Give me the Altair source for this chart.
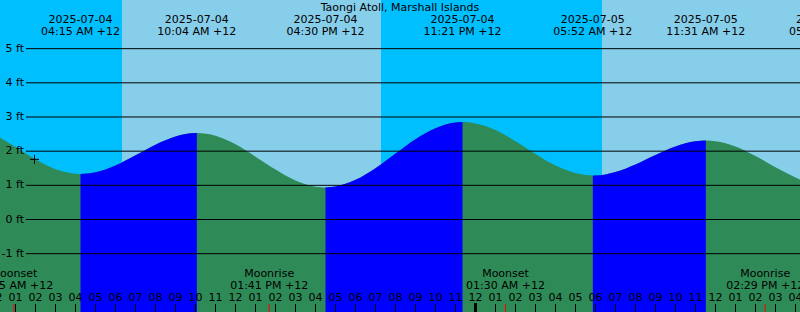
import altair as alt
import pandas as pd

FONT = "DejaVu Sans"
TITLE = "Taongi Atoll, Marshall Islands"

# Tide height (hours after 2025-07-04 00:00, feet)
tide_hours = [-1, 0, 1, 2, 3, 4, 4.25, 5, 6, 7, 8, 9, 10, 10.067, 11, 12, 13, 14, 15, 16, 16.5,
              17, 18, 19, 20, 21, 22, 23, 23.35, 24, 25, 26, 27, 28, 29, 29.867, 30, 31, 32, 33,
              34, 35, 35.517, 36, 37, 38, 39, 40, 41, 41.62]
tide_feet = [2.69, 2.46, 2.12, 1.76, 1.47, 1.34, 1.33, 1.38, 1.58, 1.88, 2.19, 2.43, 2.53, 2.53,
             2.45, 2.20, 1.84, 1.46, 1.14, 0.96, 0.94, 0.965, 1.16, 1.50, 1.93, 2.35, 2.67, 2.84,
             2.85, 2.81, 2.62, 2.29, 1.92, 1.58, 1.36, 1.29, 1.29, 1.39, 1.61, 1.89, 2.14, 2.29,
             2.31, 2.29, 2.14, 1.86, 1.53, 1.23, 0.99, 0.96]

# High / low tide events
ext_hours = [4.25, 10.067, 16.5, 23.35, 29.867, 35.517, 41.62]
ext_kind = ["low", "high", "low", "high", "low", "high", "low"]
ext_date = ["2025-07-04", "2025-07-04", "2025-07-04", "2025-07-04",
            "2025-07-05", "2025-07-05", "2025-07-05"]
ext_time = ["04:15 AM +12", "10:04 AM +12", "04:30 PM +12", "11:21 PM +12",
            "05:52 AM +12", "11:31 AM +12", "05:37 PM +12"]

# Day / night spans
sun_start = [-2, 6.325, 19.275, 30.325]
sun_end = [6.325, 19.275, 30.325, 43]
sun_kind = ["night", "day", "night", "day"]

# Moon events
moon_hours = [0.9167, 13.683, 25.5, 38.483]
moon_name = ["Moonset", "Moonrise", "Moonset", "Moonrise"]
moon_time = ["12:55 AM +12", "01:41 PM +12", "01:30 AM +12", "02:29 PM +12"]

# Hour ticks
hour_ticks = list(range(0, 42))
hour_labels = ["12", "01", "02", "03", "04", "05", "06", "07", "08", "09", "10", "11",
               "12", "01", "02", "03", "04", "05", "06", "07", "08", "09", "10", "11",
               "12", "01", "02", "03", "04", "05", "06", "07", "08", "09", "10", "11",
               "12", "01", "02", "03", "04", "05"]
midnight_hours = [0, 24]

# Height axis
ft_ticks = [-1, 0, 1, 2, 3, 4, 5]
ft_labels = ["-1 ft", "0 ft", "1 ft", "2 ft", "3 ft", "4 ft", "5 ft"]

# Current-time marker
now_hours = [1.95]
now_feet = [1.76]

# ---------------------------------------------------------------------------
tide_df = pd.DataFrame({"t": tide_hours, "ft": tide_feet})

flood_rows = []
seg = 0
for i in range(len(ext_hours) - 1):
    if ext_kind[i] == "low" and ext_kind[i + 1] == "high":
        lo, hi = ext_hours[i], ext_hours[i + 1]
        for t, f in zip(tide_hours, tide_feet):
            if lo <= t <= hi:
                flood_rows.append({"t": t, "ft": f, "seg": seg})
        seg += 1
flood_df = pd.DataFrame(flood_rows)

ext_df = pd.DataFrame({"t": ext_hours, "date": ext_date, "time": ext_time})
sun_df = pd.DataFrame({"start": sun_start, "end": sun_end, "kind": sun_kind})
moon_df = pd.DataFrame({"t": moon_hours, "name": moon_name, "time": moon_time})
hour_df = pd.DataFrame({"t": hour_ticks, "label": hour_labels})
mid_df = pd.DataFrame({"t": midnight_hours})
ft_df = pd.DataFrame({"ft": ft_ticks, "label": ft_labels})
now_df = pd.DataFrame({"t": now_hours, "ft": now_feet})
title_df = pd.DataFrame({"title": [TITLE]})

xs = alt.Scale(domain=[0.225, 40.225], nice=False, zero=False)
ys = alt.Scale(domain=[-2.707, 6.424], nice=False, zero=False)

def X(field):
    return alt.X(field, type="quantitative", scale=xs, axis=None)

def Y(field):
    return alt.Y(field, type="quantitative", scale=ys, axis=None, stack=None)

sky_night = alt.Chart(sun_df).transform_filter(alt.datum.kind == "night").mark_rect(
    color="#00BFFF", clip=True).encode(x=X("start"), x2="end", y=alt.value(0), y2=alt.value(312))
sky_day = alt.Chart(sun_df).transform_filter(alt.datum.kind == "day").mark_rect(
    color="#87CEEB", clip=True).encode(x=X("start"), x2="end", y=alt.value(0), y2=alt.value(312))

ebb = alt.Chart(tide_df).mark_area(interpolate="monotone", color="#2E8B57", clip=True).encode(
    x=X("t"), y=Y("ft"), y2=alt.value(312))
flood = alt.Chart(flood_df).mark_area(interpolate="monotone", color="#0000FF", clip=True).encode(
    x=X("t"), y=Y("ft"), y2=alt.value(312), detail="seg:N")

grid = alt.Chart(ft_df).mark_rule(color="black", strokeWidth=1).encode(
    y=Y("ft"), x=alt.value(26), x2=alt.value(800))
ft_text = alt.Chart(ft_df).mark_text(align="right", baseline="middle", font=FONT, fontSize=11,
                                     color="black").encode(y=Y("ft"), x=alt.value(24), text="label:N")

now_mark = alt.Chart(now_df).mark_point(shape="M-1,0H1M0,-1V1", size=81, filled=False,
                                        color="black", strokeWidth=1, opacity=1).encode(
    x=X("t"), y=Y("ft"))

title = alt.Chart(title_df).mark_text(align="center", baseline="alphabetic", font=FONT,
                                      fontSize=11, color="black").encode(
    x=alt.value(400), y=alt.value(11), text="title:N")
ext_date_t = alt.Chart(ext_df).mark_text(align="center", baseline="alphabetic", font=FONT,
                                         fontSize=11, color="black").encode(
    x=X("t"), y=alt.value(23), text="date:N")
ext_time_t = alt.Chart(ext_df).mark_text(align="center", baseline="alphabetic", font=FONT,
                                         fontSize=11, color="black").encode(
    x=X("t"), y=alt.value(35), text="time:N")

moon_name_t = alt.Chart(moon_df).mark_text(align="center", baseline="alphabetic", font=FONT,
                                           fontSize=11, color="black").encode(
    x=X("t"), y=alt.value(277), text="name:N")
moon_time_t = alt.Chart(moon_df).mark_text(align="center", baseline="alphabetic", font=FONT,
                                           fontSize=11, color="black").encode(
    x=X("t"), y=alt.value(289), text="time:N")
hour_t = alt.Chart(hour_df).mark_text(align="center", baseline="alphabetic", font=FONT,
                                      fontSize=11, color="black").encode(
    x=X("t"), y=alt.value(301), text="label:N")

hour_ticks_m = alt.Chart(hour_df).mark_rule(color="black", strokeWidth=1).encode(
    x=X("t"), y=alt.value(304), y2=alt.value(312))
mid_ticks = alt.Chart(mid_df).mark_rule(color="black", strokeWidth=3).encode(
    x=X("t"), y=alt.value(303), y2=alt.value(312))
moon_ticks = alt.Chart(moon_df).mark_rule(color="#FF0000", strokeWidth=1).encode(
    x=X("t"), y=alt.value(304), y2=alt.value(312))

chart = alt.layer(
    sky_night, sky_day, ebb, flood, grid, ft_text, now_mark, title, ext_date_t, ext_time_t,
    moon_name_t, moon_time_t, hour_t, hour_ticks_m, mid_ticks, moon_ticks
).properties(
    width=800, height=312, padding=0, autosize="none", background="white"
).configure_view(stroke=None)

chart.save("out.html", embed_options={"renderer": "svg", "actions": False})
